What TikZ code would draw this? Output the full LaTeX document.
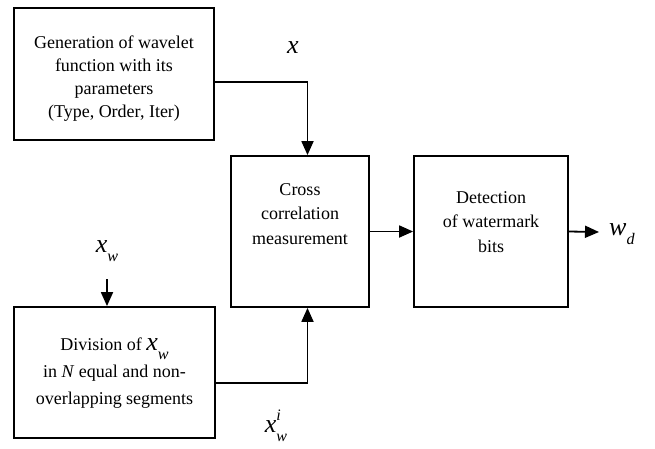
\documentclass[tikz,border=0pt]{standalone}
\usepackage{fontspec}
\setmainfont{Liberation Serif}
\usetikzlibrary{arrows.meta}
\newcommand\vsub[2]{#1\raisebox{-0.35em}{\fontsize{0.62em}{0.7em}\selectfont #2}}
\tikzset{
  blk/.style={draw, line width=1.8pt, inner sep=0pt},
  txt/.style={align=center, font=\fontsize{18}{24.5}\selectfont},
  lbl/.style={font=\fontsize{26}{30}\selectfont\itshape, inner sep=0pt},
  conn/.style={line width=1.8pt, -{Triangle[length=14pt,width=12pt]}},
}
\begin{document}
\begin{tikzpicture}[x=1pt,y=-1pt]
\useasboundingbox (0,0) rectangle (655,448);
\node[blk, minimum width=200pt, minimum height=132pt] (b1) at (114,74) {};
\node[blk, minimum width=138pt, minimum height=151pt] (b2) at (300,231.5) {};
\node[blk, minimum width=154pt, minimum height=151pt] (b3) at (491,231.5) {};
\node[blk, minimum width=201pt, minimum height=131pt] (b4) at (114.5,372.5) {};
\node[txt, font=\fontsize{18}{23}\selectfont] (t1) at (114,79) {Generation of wavelet\\function with its\\parameters\\(Type, Order, Iter)};
\node[txt] (t2) at (300,214) {Cross\\correlation\\measurement};
\node[txt] (t3) at (491,222) {Detection\\of watermark\\bits};
\node[txt, font=\fontsize{18}{27}\selectfont] (t4) at (114.5,373) {Division of {\fontsize{26}{30}\selectfont\itshape\vsub{x}{w}}\\in \textit{N} equal and non-\\overlapping segments};
\node[lbl] (lx) at (293,48) {x};
\node[lbl] (lxw) at (107,251) {\vsub{x}{w}};
\node[lbl, anchor=west] (lwd) at (609,234) {\vsub{w}{d}};
\node[lbl] (lxwi) at (276,426) {x\rlap{\raisebox{0.45em}{\fontsize{16}{18}\selectfont i}}\raisebox{-0.35em}{\fontsize{16}{18}\selectfont w}};
\coordinate (xwtop) at (107,279);
\coordinate (wdend) at (599,232);
\draw[conn] ([yshift=-8pt]b1.east) -| ([xshift=7.5pt]b2.north);
\draw[conn] ([yshift=-10.5pt]b4.east) -| ([xshift=7.5pt]b2.south);
\draw[conn] (xwtop) -- (xwtop |- b4.north);
\draw[conn] (b2.east) -- (b3.west);
\draw[conn] (b3.east) -- (wdend);
\end{tikzpicture}
\end{document}
